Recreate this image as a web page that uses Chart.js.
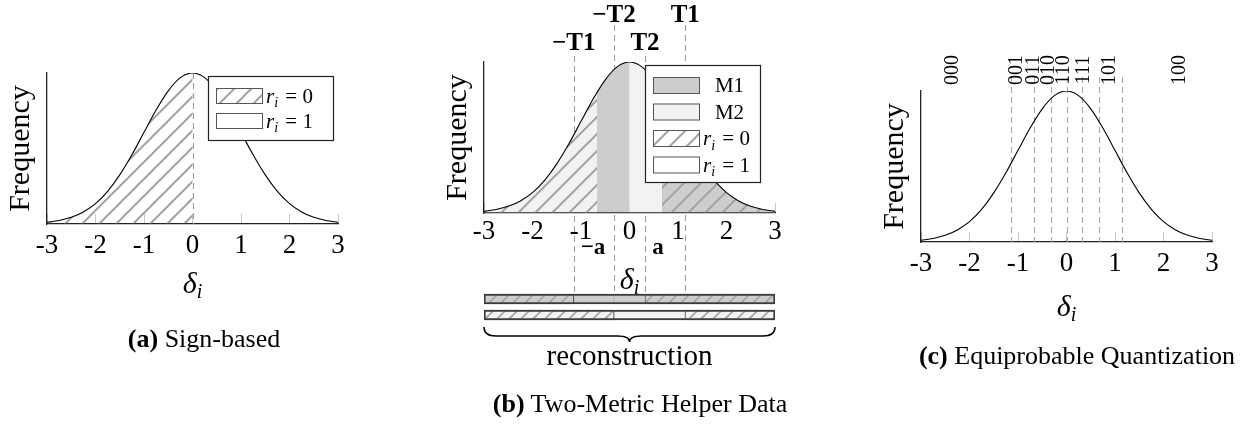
<!DOCTYPE html>
<html>
<head>
<meta charset="utf-8">
<script src="https://cdn.jsdelivr.net/npm/chart.js@4.4.1/dist/chart.umd.min.js"></script>
<style>
  html, body { margin: 0; padding: 0; background: #fff; }
  #wrap { position: relative; width: 1254px; height: 426px; overflow: hidden; background: #fff; }
  #wrap canvas { position: absolute; left: 0; top: 0; }
  .cap { position: absolute; height: 30px; line-height: 30px; text-align: center; white-space: nowrap;
         font-family: "Liberation Serif", "Times New Roman", serif; font-size: 26px; color: #000; }
  .cap b { font-weight: bold; }
</style>
</head>
<body>
<div id="wrap">
  <canvas id="chartSign" width="1254" height="426"></canvas>
  <canvas id="chartTwoMetric" width="1254" height="426"></canvas>
  <canvas id="chartRecon" width="1254" height="426"></canvas>
  <canvas id="chartQuant" width="1254" height="426"></canvas>
  <div class="cap" style="left:4px;top:324px;width:400px"><b>(a)</b> Sign-based</div>
  <div class="cap" style="left:440px;top:389px;width:400px"><b>(b)</b> Two-Metric Helper Data</div>
  <div class="cap" style="left:897px;top:341px;width:360px"><b>(c)</b> Equiprobable Quantization</div>
</div>
<script>
// ---- data ---------------------------------------------------------------
// frequency of the helper value δ_i, sampled every 0.25
const deltaGrid = [-3, -2.75, -2.5, -2.25, -2, -1.75, -1.5, -1.25, -1, -0.75, -0.5, -0.25,
                   0, 0.25, 0.5, 0.75, 1, 1.25, 1.5, 1.75, 2, 2.25, 2.5, 2.75, 3];
const frequency = [0.011, 0.023, 0.044, 0.080, 0.135, 0.216, 0.325, 0.458, 0.607, 0.755, 0.882, 0.969,
                   1.000, 0.969, 0.882, 0.755, 0.607, 0.458, 0.325, 0.216, 0.135, 0.080, 0.044, 0.023, 0.011];
const deltaTicks = [-3, -2, -1, 0, 1, 2, 3];

// (a) sign-based: r_i = 0 below the split, r_i = 1 above
const signSplit = [0];

// (b) two-metric helper data
const thresholdNames = ['\u2212T1', '\u2212T2', 'T2', 'T1'];
const thresholdValues = [-1.15, -0.32, 0.32, 1.15];
const boundaryNames = ['\u2212a', 'a'];
const boundaryValues = [-0.67, 0.67];
const regionFrom   = [-3, -0.67, 0, 0.67];
const regionTo     = [-0.67, 0, 0.67, 3];
const regionMetric = ['M2', 'M1', 'M2', 'M1'];
const regionBit    = [0, 1, 1, 0];

// reconstruction rows of (b)
const reconRows = ['M1', 'M2'];
const m1From = [-3, -1.15, -0.32, 0.32];
const m1To   = [-1.15, -0.32, 0.32, 3];
const m1Bit  = [0, 1, 1, 0];
const m2From = [-3, -0.32, 1.15];
const m2To   = [-0.32, 1.15, 3];
const m2Bit  = [0, 1, 0];

// (c) equiprobable quantization into 8 intervals
const quantileEdges = [-1.15, -0.67, -0.32, 0, 0.32, 0.67, 1.15];
const codeWords   = ['000', '001', '011', '010', '110', '111', '101', '100'];
const codeCentres = [-2.34, -1.02, -0.67, -0.36, -0.05, 0.36, 0.89, 2.34];

// ---- styling helpers ----------------------------------------------------
const W = 1254, H = 426;
const SERIF = '"Liberation Serif", "Times New Roman", serif';
const M1_FILL = '#cdcdcd';
const M2_FILL = '#f2f2f2';
const HATCH_INK = '#a3a3a3';

function hatchPattern(canvasId, bg, gap, width) {
  const tile = document.createElement('canvas');
  tile.width = gap; tile.height = gap;
  const g = tile.getContext('2d');
  if (bg) { g.fillStyle = bg; g.fillRect(0, 0, gap, gap); }
  g.strokeStyle = HATCH_INK; g.lineWidth = width; g.lineCap = 'butt';
  g.beginPath();
  g.moveTo(-2, gap + 2); g.lineTo(gap + 2, -2);
  g.moveTo(-3, 3); g.lineTo(3, -3);
  g.moveTo(gap - 3, gap + 3); g.lineTo(gap + 3, gap - 3);
  g.stroke();
  return document.getElementById(canvasId).getContext('2d').createPattern(tile, 'repeat');
}

// fills the area under the density curve between two δ values
function fillUnder(chart, from, to, styles) {
  const {ctx, chartArea} = chart;
  const xs = chart.scales.x;
  const line = chart.getDatasetMeta(0).dataset;
  const pts = chart.getDatasetMeta(0).data;
  if (!line || !pts.length) return;
  line.updateControlPoints(chartArea, 'x');
  const x0 = Math.max(xs.getPixelForValue(from), chartArea.left + 0.7);
  const x1 = Math.min(xs.getPixelForValue(to), chartArea.right);
  ctx.save();
  ctx.beginPath();
  ctx.rect(x0, chartArea.top - 3, x1 - x0, chartArea.bottom - 0.7 - (chartArea.top - 3));
  ctx.clip();
  ctx.beginPath();
  line.path(ctx);
  ctx.lineTo(pts[pts.length - 1].x, chartArea.bottom);
  ctx.lineTo(pts[0].x, chartArea.bottom);
  ctx.closePath();
  for (const s of styles) { ctx.fillStyle = s; ctx.fill(); }
  ctx.restore();
}

function dashedV(ctx, x, y0, y1, color) {
  ctx.save();
  ctx.strokeStyle = color || '#a8a8a8';
  ctx.lineWidth = 1.1;
  ctx.setLineDash([6, 4]);
  ctx.beginPath();
  ctx.moveTo(Math.round(x) + 0.5, y0);
  ctx.lineTo(Math.round(x) + 0.5, y1);
  ctx.stroke();
  ctx.restore();
}

// r_i = v written with italic r and subscript i
function drawRi(ctx, x, y, value, size) {
  ctx.save();
  ctx.fillStyle = '#000';
  ctx.textAlign = 'left';
  ctx.textBaseline = 'alphabetic';
  ctx.font = 'italic ' + size + 'px ' + SERIF;
  ctx.fillText('r', x, y);
  let cx = x + ctx.measureText('r').width;
  ctx.font = 'italic ' + Math.round(size * 0.68) + 'px ' + SERIF;
  ctx.fillText('i', cx, y + size * 0.22);
  cx += ctx.measureText('i').width + 2;
  ctx.font = size + 'px ' + SERIF;
  ctx.fillText(' = ' + value, cx, y);
  ctx.restore();
}

function drawLegend(chart, cfg) {
  const {ctx, chartArea} = chart;
  const left = chartArea.right - cfg.inset - cfg.width;
  const top = chartArea.top + 3;
  ctx.save();
  ctx.fillStyle = '#fff';
  ctx.fillRect(left, top, cfg.width, cfg.height);
  ctx.strokeStyle = '#222';
  ctx.lineWidth = 1.2;
  ctx.strokeRect(left + 0.5, top + 0.5, cfg.width, cfg.height);
  cfg.entries.forEach((e, i) => {
    const sy = top + 12 + i * cfg.step;
    const sx = left + 8;
    ctx.fillStyle = '#fff';
    ctx.fillRect(sx, sy, 46, cfg.swatchH);
    ctx.fillStyle = e.fill;
    ctx.fillRect(sx, sy, 46, cfg.swatchH);
    ctx.strokeStyle = '#555';
    ctx.lineWidth = 1;
    ctx.strokeRect(sx + 0.5, sy + 0.5, 46, cfg.swatchH);
    const base = sy + cfg.swatchH / 2 + 7;
    if (e.bit !== undefined) {
      drawRi(ctx, sx + 50, base, e.bit, 21);
    } else {
      ctx.font = '21px ' + SERIF;
      ctx.fillStyle = '#000';
      ctx.textAlign = 'center';
      ctx.textBaseline = 'alphabetic';
      ctx.fillText(e.text, (sx + 46 + left + cfg.width) / 2, base);
    }
  });
  ctx.restore();
}

// axis titles: rotated "Frequency" and δ with subscript i
function axisTitles(deltaOffset) {
  return {
    id: 'axisTitles',
    afterDraw(chart) {
      const {ctx, chartArea} = chart;
      ctx.save();
      ctx.fillStyle = '#000';
      ctx.font = '30px ' + SERIF;
      ctx.textAlign = 'center';
      ctx.textBaseline = 'middle';
      ctx.translate(chartArea.left - 26, (chartArea.top + chartArea.bottom) / 2);
      ctx.rotate(-Math.PI / 2);
      ctx.fillText('Frequency', 0, 0);
      ctx.restore();

      ctx.save();
      ctx.fillStyle = '#000';
      ctx.textBaseline = 'alphabetic';
      ctx.textAlign = 'left';
      ctx.font = 'italic 30px ' + SERIF;
      const wd = ctx.measureText('\u03b4').width;
      ctx.font = 'italic 20px ' + SERIF;
      const wi = ctx.measureText('i').width;
      const cx = (chartArea.left + chartArea.right) / 2 - (wd + wi) / 2;
      const base = chartArea.bottom + deltaOffset + 10;
      ctx.font = 'italic 30px ' + SERIF;
      ctx.fillText('\u03b4', cx, base);
      ctx.font = 'italic 20px ' + SERIF;
      ctx.fillText('i', cx + wd, base + 5);
      ctx.restore();
    }
  };
}

function curveChart(canvasId, area, tickPad, deltaOffset, plugins) {
  const X_H = 60;
  return new Chart(document.getElementById(canvasId), {
    type: 'line',
    data: {
      datasets: [{
        data: deltaGrid.map((x, i) => ({x: x, y: frequency[i]})),
        borderColor: '#000',
        borderWidth: 1.1,
        pointRadius: 0,
        cubicInterpolationMode: 'monotone',
        fill: false
      }]
    },
    options: {
      responsive: false,
      animation: false,
      events: [],
      layout: {padding: {left: area.left, top: area.top, right: W - area.right, bottom: H - area.bottom - X_H}},
      plugins: {legend: {display: false}, tooltip: {enabled: false}},
      scales: {
        x: {
          type: 'linear', min: -3, max: 3,
          afterFit: s => { s.height = X_H; },
          afterBuildTicks: s => { s.ticks = deltaTicks.map(v => ({value: v})); },
          ticks: {
            font: {family: SERIF, size: 27}, color: '#000', padding: tickPad,
            maxRotation: 0, autoSkip: false, callback: v => String(v)
          },
          grid: {drawOnChartArea: false, drawTicks: true, tickLength: -10, color: '#c6c6c6', lineWidth: 1},
          border: {display: true, color: '#222', width: 1.3}
        },
        y: {
          min: 0, max: 1,
          afterFit: s => { s.width = 0; },
          ticks: {display: false},
          grid: {display: false},
          border: {display: true, color: '#222', width: 1.3}
        }
      }
    },
    plugins: [axisTitles(deltaOffset)].concat(plugins)
  });
}

// ---- (a) sign-based ------------------------------------------------------
const hatchA = hatchPattern('chartSign', null, 17, 2);
curveChart('chartSign', {left: 47, top: 73, right: 338, bottom: 224}, 16, 59, [{
  id: 'signDecor',
  beforeDatasetsDraw(chart) {
    const {chartArea} = chart;
    const xs = chart.scales.x;
    fillUnder(chart, -3, signSplit[0], [hatchA]);
    dashedV(chart.ctx, xs.getPixelForValue(signSplit[0]), chartArea.top, chartArea.bottom, '#9c9c9c');
  },
  afterDraw(chart) {
    drawLegend(chart, {
      inset: 5, width: 125, height: 64, step: 25, swatchH: 15,
      entries: [{fill: hatchPattern('chartSign', '#fff', 17, 2), bit: 0}, {fill: '#fff', bit: 1}]
    });
  }
}]);

// ---- (b) two-metric ------------------------------------------------------
const RAIL_END = 294;
const regionStyle = (metric, bit) => {
  const bg = metric === 'M1' ? M1_FILL : M2_FILL;
  return bit === 0 ? [bg, hatchPattern('chartTwoMetric', null, 17, 2)] : [bg];
};
curveChart('chartTwoMetric', {left: 484, top: 62, right: 775, bottom: 213}, 13, 66, [{
  id: 'twoMetricDecor',
  beforeDatasetsDraw(chart) {
    const xs = chart.scales.x;
    thresholdValues.forEach((v, i) => {
      const upper = (i === 1 || i === 3);
      dashedV(chart.ctx, xs.getPixelForValue(v), upper ? 25 : 56, RAIL_END, '#a0a0a0');
    });
    regionFrom.forEach((f, i) => fillUnder(chart, f, regionTo[i], regionStyle(regionMetric[i], regionBit[i])));
  },
  afterDraw(chart) {
    const {ctx} = chart;
    const xs = chart.scales.x;
    ctx.save();
    ctx.fillStyle = '#000';
    ctx.textAlign = 'center';
    ctx.textBaseline = 'middle';
    ctx.font = 'bold 25px ' + SERIF;
    thresholdValues.forEach((v, i) => {
      const upper = (i === 1 || i === 3);
      ctx.fillText(thresholdNames[i], xs.getPixelForValue(v), upper ? 16 : 44);
    });
    ctx.font = 'bold 23px ' + SERIF;
    boundaryValues.forEach((v, i) => {
      ctx.fillText(boundaryNames[i], xs.getPixelForValue(v) - 4, 248);
    });
    ctx.restore();
    drawLegend(chart, {
      inset: 15, width: 115, height: 117, step: 26.5, swatchH: 16,
      entries: [
        {fill: M1_FILL, text: 'M1'},
        {fill: M2_FILL, text: 'M2'},
        {fill: hatchPattern('chartTwoMetric', '#fff', 17, 2), bit: 0},
        {fill: '#fff', bit: 1}
      ]
    });
  }
}]);

// reconstruction bars underneath (b)
function segmentSets(row, from, to, bits, fill) {
  return from.map((f, i) => {
    const data = reconRows.map((r, j) => (j === row ? [f, to[i]] : null));
    const hatched = bits[i] === 0;
    return {
      data: data,
      backgroundColor: hatched ? hatchPattern('chartRecon', fill, 12, 1.6) : fill,
      borderColor: hatched ? '#555' : '#b8b8b8',
      borderWidth: 1,
      borderSkipped: false,
      barThickness: 10,
      grouped: false,
      order: 1
    };
  });
}
new Chart(document.getElementById('chartRecon'), {
  type: 'bar',
  data: {
    labels: reconRows,
    datasets: [
      {data: reconRows.map(() => [-3, 3]), backgroundColor: 'rgba(0,0,0,0)', borderColor: '#3c3c3c',
       borderWidth: 1.3, borderSkipped: false, barThickness: 10, grouped: false, order: 0}
    ].concat(segmentSets(0, m1From, m1To, m1Bit, M1_FILL), segmentSets(1, m2From, m2To, m2Bit, M2_FILL))
  },
  options: {
    indexAxis: 'y',
    responsive: false,
    animation: false,
    events: [],
    layout: {padding: {left: 484, right: W - 775, top: 291, bottom: H - 323}},
    plugins: {legend: {display: false}, tooltip: {enabled: false}},
    scales: {
      x: {type: 'linear', min: -3, max: 3, display: false},
      y: {type: 'category', display: false}
    }
  },
  plugins: [{
    id: 'brace',
    afterDraw(chart) {
      const {ctx, chartArea} = chart;
      const xs = chart.scales.x;
      const x0 = xs.getPixelForValue(-3), x1 = xs.getPixelForValue(3);
      const mid = (x0 + x1) / 2;
      const y0 = chartArea.bottom + 4, y1 = y0 + 9, tip = y0 + 15;
      ctx.save();
      ctx.strokeStyle = '#000';
      ctx.lineWidth = 1.5;
      ctx.beginPath();
      ctx.moveTo(x0, y0);
      ctx.quadraticCurveTo(x0, y1, x0 + 12, y1);
      ctx.lineTo(mid - 12, y1);
      ctx.quadraticCurveTo(mid, y1, mid, tip);
      ctx.quadraticCurveTo(mid, y1, mid + 12, y1);
      ctx.lineTo(x1 - 12, y1);
      ctx.quadraticCurveTo(x1, y1, x1, y0);
      ctx.stroke();
      ctx.fillStyle = '#000';
      ctx.font = '29px ' + SERIF;
      ctx.textAlign = 'center';
      ctx.textBaseline = 'middle';
      ctx.fillText('reconstruction', mid, chartArea.bottom + 34);
      ctx.restore();
    }
  }]
});

// ---- (c) equiprobable quantization --------------------------------------
curveChart('chartQuant', {left: 921, top: 91, right: 1212, bottom: 242}, 16, 64, [{
  id: 'quantDecor',
  beforeDatasetsDraw(chart) {
    const xs = chart.scales.x;
    quantileEdges.forEach(v => dashedV(chart.ctx, xs.getPixelForValue(v), 77, chart.chartArea.bottom, '#a8a8a8'));
  },
  afterDraw(chart) {
    const {ctx} = chart;
    const xs = chart.scales.x;
    ctx.save();
    ctx.fillStyle = '#000';
    ctx.font = '20px ' + SERIF;
    ctx.textAlign = 'center';
    ctx.textBaseline = 'middle';
    codeWords.forEach((w, i) => {
      ctx.save();
      ctx.translate(xs.getPixelForValue(codeCentres[i]), 70);
      ctx.rotate(-Math.PI / 2);
      ctx.fillText(w, 0, 0);
      ctx.restore();
    });
    ctx.restore();
  }
}]);
</script>
</body>
</html>
